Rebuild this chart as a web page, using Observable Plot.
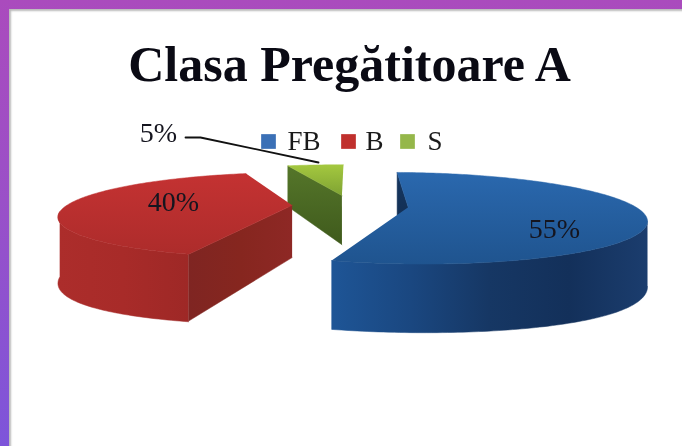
<!DOCTYPE html>
<html><head><meta charset="utf-8">
<script src="https://cdn.jsdelivr.net/npm/d3@7"></script>
<script src="https://cdn.jsdelivr.net/npm/@observablehq/plot@0.6"></script>
<style>
html,body{margin:0;padding:0;background:#fff}
#page{position:relative;width:682px;height:446px;overflow:hidden;background:linear-gradient(180deg,#aa4bbd 0%,#9a50c8 45%,#7d55da 100%)}
#panel{position:absolute;left:9px;top:9px;right:0;bottom:0;background:#fff;box-shadow:inset 2px 2px 2px #bbb}
#chart{position:absolute;left:0;top:0;filter:blur(.7px)}
#chart svg{display:block;background:transparent}
</style></head><body>
<div id="page"><div id="panel"></div><div id="chart"></div></div>
<script>
const chartTitle = "Clasa Pregătitoare A";
const categories = ["FB", "B", "S"];
const shares = [55, 40, 5];

// Perspective model of the exploded 3D pie
const deg = Math.PI / 180;
const R = 229, tilt = 0.185, persp = 0.235, depth = 52, burst = 58;
const skew = 0.07, roll = 0.015, sideBulge = 10;
const lift = [-2, -2, -2];
const radiusFactor = [1.012, 0.955, 1];
const cx = 350, cy = 207, startAngle = -4 * deg;
const project = (wx, wy, down = 0) => {
  const s = 1 / (1 - persp * wy / R);
  return {x: cx + (wx - skew * wy) * s, y: cy + (tilt * wy + roll * wx + down) * s};
};
const arcs = d3.pie().sort(null).startAngle(startAngle).endAngle(startAngle + 2 * Math.PI)(shares);
const slices = arcs.map((a, i) => {
  const mid = (a.startAngle + a.endAngle) / 2;
  const ox = burst * Math.sin(mid), oy = -burst * Math.cos(mid);
  const r = R * radiusFactor[i];
  const n = Math.max(8, Math.round((a.endAngle - a.startAngle) / deg));
  const angles = d3.range(n + 1).map((j) => a.startAngle + (a.endAngle - a.startAngle) * j / n);
  const rim = (t, down) => project(ox + r * Math.sin(t), oy - r * Math.cos(t), down + lift[i]);
  const apex = (down) => project(ox, oy, down + lift[i]);
  const top = [apex(0), ...angles.map((t) => rim(t, 0))];
  const frontAngles = angles.filter((t) => Math.cos(t) < -persp * 0.9);
  const outer = frontAngles.length ? [...frontAngles.map((t) => rim(t, 0)), ...frontAngles.slice().reverse().map((t) => rim(t, depth + sideBulge * Math.sin(t) ** 2))] : [];
  const cutA = [apex(0), rim(a.startAngle, 0), rim(a.startAngle, depth), apex(depth)];
  return {top, outer, cutA};
});

const legendX = [268, 348, 407];
const legendY = 141;
const legendTextX = [287, 365, 427];
const labelX = [554, 173, 158], labelY = [229, 202, 133];
const leader = [{x: 185, y: 137}, {x: 200, y: 137}, {x: 318, y: 162}];
const swatch = ["#3b70b6", "#c0302d", "#95b74a"];
const labelTexts = shares.map((v) => v + "%");
const idx = categories.map((_, i) => i);

const gradients = {
  blueTop: [1, ["#2a68ae", "#1f548f"]],
  blueWall: [0, ["#1e5596", "#1a4780", "#163764", "#13305a", "#1b3d6e"]],
  blueCut: [1, ["#16365f", "#102a4c"]],
  redTop: [1, ["#c43232", "#ad2c2b"]],
  redWall: [0, ["#ac2d2b", "#a82b29", "#9e2826"]],
  redCut: [0, ["#7f2522", "#86261f", "#8e2825"]],
  greenTop: [1, ["#a4c83f", "#7fa333"]],
  greenCut: [1, ["#55762a", "#3f5a1c"]]
};
const defs = () => {
  const d = d3.create("svg:defs");
  for (const [id, [vert, stops]] of Object.entries(gradients)) {
    const g = d.append("linearGradient").attr("id", id).attr("x1", 0).attr("y1", 0)
      .attr("x2", vert === 0 ? 1 : 0).attr("y2", vert);
    stops.forEach((c, i) => g.append("stop").attr("offset", i / (stops.length - 1)).attr("stop-color", c));
  }
  return d.node();
};
const face = (pts, fill) => Plot.line(pts, {x: "x", y: "y", fill, stroke: fill, strokeWidth: 0.5});

const [blue, red, green] = slices;
const marks = [
  defs,
  face(green.cutA, "url(#greenCut)"),
  face(green.top, "url(#greenTop)"),
  face(blue.cutA, "url(#blueCut)"),
  face(blue.outer, "url(#blueWall)"),
  face(blue.top, "url(#blueTop)"),
  face(red.outer, "url(#redWall)"),
  face(red.cutA, "url(#redCut)"),
  face(red.top, "url(#redTop)"),
  Plot.line(leader, {x: "x", y: "y", stroke: "#111", strokeWidth: 1.8}),
  Plot.dot(idx, {x: (i) => legendX[i], y: () => legendY, symbol: "square", r: 8.3, fill: (i) => swatch[i], stroke: "none"}),
  Plot.text(idx, {x: (i) => legendTextX[i], y: () => legendY, text: (i) => categories[i], textAnchor: "start", fontSize: 27, fontFamily: "Liberation Serif", fill: "#1a1a1a"}),
  Plot.text(idx, {x: (i) => labelX[i], y: (i) => labelY[i], text: (i) => labelTexts[i], fontSize: 28, fontFamily: "Liberation Serif", fill: "#15151f"}),
  Plot.text([chartTitle], {x: () => 349, y: () => 64, text: (d) => d, fontSize: 50, fontWeight: "bold", fontFamily: "Liberation Serif", fill: "#0a0a14"})
];

const plot = Plot.plot({
  width: 682, height: 446, margin: 0,
  x: {type: "linear", domain: [0, 682], range: [0, 682], axis: null},
  y: {type: "linear", domain: [0, 446], range: [0, 446], axis: null},
  style: {background: "transparent"},
  marks
});
document.getElementById("chart").appendChild(plot);
</script>
</body></html>
